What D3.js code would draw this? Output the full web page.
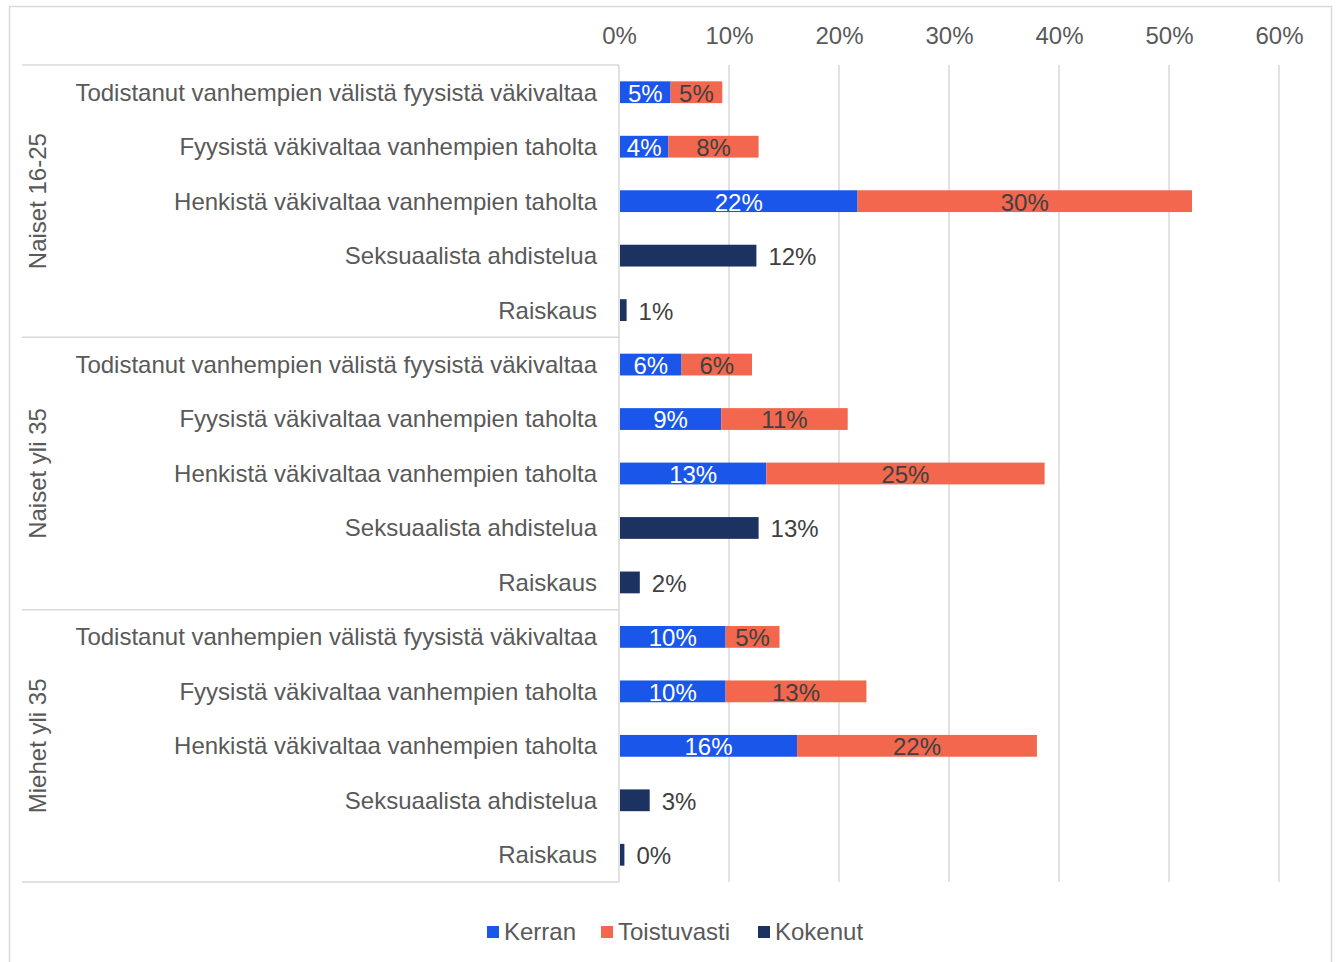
<!DOCTYPE html>
<html><head><meta charset="utf-8">
<script src="https://cdn.jsdelivr.net/npm/d3@7"></script>
<style>body{margin:0;background:#fff}svg{display:block}text{font-family:"Liberation Sans",Arial,sans-serif}</style>
</head><body><svg id="c" width="1336" height="962"></svg>
<script>
const groups = ["Naiset 16-25", "Naiset yli 35", "Miehet yli 35"];
const categories = ["Todistanut vanhempien välistä fyysistä väkivaltaa", "Fyysistä väkivaltaa vanhempien taholta", "Henkistä väkivaltaa vanhempien taholta", "Seksuaalista ahdistelua", "Raiskaus"];
const seriesNames = ["Kerran", "Toistuvasti", "Kokenut"];
// per group, per category
const kerran = [[4.6, 4.4, 21.6, 0, 0], [5.6, 9.2, 13.3, 0, 0], [9.6, 9.6, 16.1, 0, 0]];
const toistuvasti = [[4.7, 8.2, 30.4, 0, 0], [6.4, 11.5, 25.3, 0, 0], [4.9, 12.8, 21.8, 0, 0]];
const kokenut = [[0, 0, 0, 12.4, 0.6], [0, 0, 0, 12.6, 1.8], [0, 0, 0, 2.7, 0.4]];
const kerranLbl = [["5%", "4%", "22%", "", ""], ["6%", "9%", "13%", "", ""], ["10%", "10%", "16%", "", ""]];
const toistLbl = [["5%", "8%", "30%", "", ""], ["6%", "11%", "25%", "", ""], ["5%", "13%", "22%", "", ""]];
const kokenutLbl = [["", "", "", "12%", "1%"], ["", "", "", "13%", "2%"], ["", "", "", "3%", "0%"]];
const ticks = [0, 10, 20, 30, 40, 50, 60];

const colors = {Kerran: "#1A56EA", Toistuvasti: "#F2674E", Kokenut: "#1C3261"};
const svg = d3.select("#c");
const fs = 24;

// frame
svg.append("rect").attr("x", 9.5).attr("y", 6.5).attr("width", 1322).attr("height", 980)
  .attr("fill", "#fff").attr("stroke", "#d9d9d9").attr("stroke-width", 1.5);

const x = d3.scaleLinear().domain([0, 60]).range([619, 1279]);
const rows = [];
groups.forEach((g, gi) => categories.forEach((c, ci) => rows.push({g, gi, c, ci, key: gi + "-" + ci})));
const y = d3.scaleBand().domain(rows.map(r => r.key)).range([65, 882]).paddingInner(0.6).paddingOuter(0.3);
const yFull = d3.scaleBand().domain(rows.map(r => r.key)).range([65, 882]);

// gridlines
svg.append("g").selectAll("line").data(ticks.slice(1)).join("line")
  .attr("x1", d => x(d)).attr("x2", d => x(d)).attr("y1", 65).attr("y2", 882)
  .attr("stroke", "#d9d9d9").attr("stroke-width", 1.5);

// top axis
const ax = svg.append("g").attr("transform", "translate(0,39)")
  .call(d3.axisTop(x).tickValues(ticks).tickFormat(d => d + "%").tickSize(0));
ax.select(".domain").remove();
ax.selectAll("text").attr("font-size", fs).attr("fill", "#595959").attr("dy", "0.35em")
  .attr("font-family", "Liberation Sans, Arial, sans-serif");

// vertical axis line
svg.append("line").attr("x1", 619).attr("x2", 619).attr("y1", 65).attr("y2", 882)
  .attr("stroke", "#d9d9d9").attr("stroke-width", 1.5);

// group separators
const gb = [65, 337.3, 609.7, 882];
svg.append("g").selectAll("line").data(gb).join("line")
  .attr("x1", 22).attr("x2", 619).attr("y1", d => d).attr("y2", d => d)
  .attr("stroke", "#d9d9d9").attr("stroke-width", 1.5);

// group labels
svg.append("g").selectAll("text").data(groups).join("text")
  .attr("transform", (d, i) => `translate(38,${(gb[i] + gb[i + 1]) / 2}) rotate(-90)`)
  .attr("text-anchor", "middle").attr("dy", "0.35em").attr("font-size", fs).attr("fill", "#595959")
  .text(d => d);

// category labels
svg.append("g").selectAll("text").data(rows).join("text")
  .attr("x", 597).attr("y", d => yFull(d.key) + yFull.bandwidth() / 2)
  .attr("text-anchor", "end").attr("dy", "0.35em").attr("font-size", fs).attr("fill", "#595959")
  .text(d => d.c);

const bh = y.bandwidth();
const segs = [];
rows.forEach(r => {
  const k = kerran[r.gi][r.ci], t = toistuvasti[r.gi][r.ci], o = kokenut[r.gi][r.ci];
  if (k > 0) segs.push({r, s: "Kerran", x0: 0, x1: k, lbl: kerranLbl[r.gi][r.ci], inside: true, tc: "#fff"});
  if (t > 0) segs.push({r, s: "Toistuvasti", x0: k, x1: k + t, lbl: toistLbl[r.gi][r.ci], inside: true, tc: "#404040"});
  if (o > 0) segs.push({r, s: "Kokenut", x0: 0, x1: o, lbl: kokenutLbl[r.gi][r.ci], inside: false, tc: "#404040"});
});
svg.append("g").selectAll("rect").data(segs).join("rect")
  .attr("x", d => x(d.x0) + 1).attr("width", d => x(d.x1) - x(d.x0))
  .attr("y", d => yFull(d.r.key) + yFull.bandwidth() / 2 - bh / 2).attr("height", bh)
  .attr("fill", d => colors[d.s]);
svg.append("g").selectAll("text").data(segs).join("text")
  .attr("x", d => d.inside ? (x(d.x0) + x(d.x1)) / 2 + 1 : x(d.x1) + 13)
  .attr("y", d => yFull(d.r.key) + yFull.bandwidth() / 2 + 1)
  .attr("text-anchor", d => d.inside ? "middle" : "start").attr("dy", "0.35em")
  .attr("font-size", fs).attr("fill", d => d.tc).text(d => d.lbl);

// legend
const legX = [487, 601, 758];
const lg = svg.append("g").attr("transform", "translate(0,932)");
const li = lg.selectAll("g").data(seriesNames).join("g").attr("transform", (d, i) => `translate(${legX[i]},0)`);
li.append("rect").attr("x", 0).attr("y", -6).attr("width", 12).attr("height", 12).attr("fill", d => colors[d]);
li.append("text").attr("x", 17).attr("dy", "0.35em").attr("font-size", fs).attr("fill", "#595959").text(d => d);
</script></body></html>
